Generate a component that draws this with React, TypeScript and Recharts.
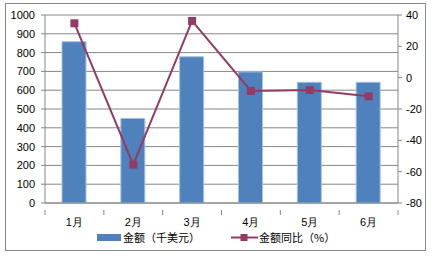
import React from 'react';
import { ComposedChart, Bar, Line, XAxis, YAxis, CartesianGrid, Legend } from 'recharts';

const months = ['1月', '2月', '3月', '4月', '5月', '6月'];
const amounts = [858, 450, 778, 697, 642, 642];
const yoy = [34.7, -55.5, 36.2, -8.5, -7.9, -11.9];
const leftTicks = [0, 100, 200, 300, 400, 500, 600, 700, 800, 900, 1000];
const rightTicks = [-80, -60, -40, -20, 0, 20, 40];
const barName = '金额（千美元）';
const lineName = '金额同比（%）';

const data = months.map((m, i) => ({ month: m, amount: amounts[i], yoy: yoy[i] }));

const BAR_COLOR = '#4F81BD';
const LINE_COLOR = '#953A62';
const AXIS_COLOR = '#868686';
const FONT = '"Liberation Sans", Arial, sans-serif';

const XTick = (props: any) => {
  const { x, y, payload, width } = props;
  const bw = width / months.length;
  return (
    <g>
      <line x1={x - bw / 2} y1={y - 1} x2={x - bw / 2} y2={y + 4} stroke={AXIS_COLOR} />
      {payload.index === months.length - 1 && (
        <line x1={x + bw / 2} y1={y - 1} x2={x + bw / 2} y2={y + 4} stroke={AXIS_COLOR} />
      )}
      <text x={x} y={y + 15} textAnchor="middle" fontSize={11} fill="#000" fontFamily={FONT}>
        {payload.value}
      </text>
    </g>
  );
};

const SquareDot = (props: any) => {
  const { cx, cy, index } = props;
  return <rect key={`d${index}`} x={cx - 4} y={cy - 4} width={8} height={8} fill={LINE_COLOR} />;
};

const LegendContent = () => (
  <div style={{ position: 'relative', height: 30, fontFamily: FONT, fontSize: 11, color: '#000' }}>
    <svg width={432} height={30} style={{ position: 'absolute', left: 0, top: 0 }}>
      <rect x={97} y={7} width={24} height={7} fill={BAR_COLOR} />
      <text x={123} y={14.5} fontSize={11} fill="#000" fontFamily='"Noto Sans CJK SC", sans-serif'>{barName}</text>
      <line x1={231} y1={10.5} x2={258} y2={10.5} stroke={LINE_COLOR} strokeWidth={2} />
      <rect x={240.5} y={7} width={7} height={7} fill={LINE_COLOR} />
      <text x={259} y={14.5} fontSize={11} fill="#000" fontFamily='"Noto Sans CJK SC", sans-serif'>{lineName}</text>
    </svg>
  </div>
);

export default function App() {
  return (
    <div style={{ position: 'fixed', left: 0, top: 0, width: 432, height: 257, background: '#fff' }}>
      <div
        style={{
          position: 'absolute',
          left: 5,
          top: 3,
          width: 421,
          height: 248,
          border: '1px solid #888',
          boxSizing: 'border-box',
        }}
      />
      <div style={{ position: 'absolute', left: 0, top: 0 }}>
        <ComposedChart
          width={432}
          height={257}
          data={data}
          margin={{ top: 15, right: 0, bottom: 0, left: 0 }}
        >
          <CartesianGrid vertical={false} stroke={AXIS_COLOR} yAxisId="left" />
          <XAxis
            dataKey="month"
            height={24}
            axisLine={{ stroke: AXIS_COLOR }}
            tickLine={false}
            tick={<XTick />}
            interval={0}
          />
          <YAxis
            yAxisId="left"
            width={45}
            domain={[0, 1000]}
            ticks={leftTicks}
            interval={0}
            axisLine={{ stroke: AXIS_COLOR }}
            tickLine={{ stroke: AXIS_COLOR }}
            tickSize={4}
            tickMargin={6}
            tick={{ fontSize: 11, fill: '#000', fontFamily: FONT }}
          />
          <YAxis
            yAxisId="right"
            orientation="right"
            width={34}
            domain={[-80, 40]}
            ticks={rightTicks}
            interval={0}
            axisLine={{ stroke: AXIS_COLOR }}
            tickLine={{ stroke: AXIS_COLOR }}
            tickSize={4}
            tickMargin={4}
            tick={{ fontSize: 11, fill: '#000', fontFamily: FONT }}
          />
          <Legend verticalAlign="bottom" height={30} content={<LegendContent />} />
          <Bar
            yAxisId="left"
            dataKey="amount"
            name={barName}
            fill={BAR_COLOR}
            stroke="#A7C0E0"
            strokeWidth={1}
            barSize={24}
            isAnimationActive={false}
          />
          <Line
            yAxisId="right"
            dataKey="yoy"
            name={lineName}
            stroke={LINE_COLOR}
            strokeWidth={2}
            dot={<SquareDot />}
            activeDot={false}
            isAnimationActive={false}
          />
        </ComposedChart>
      </div>
    </div>
  );
}
